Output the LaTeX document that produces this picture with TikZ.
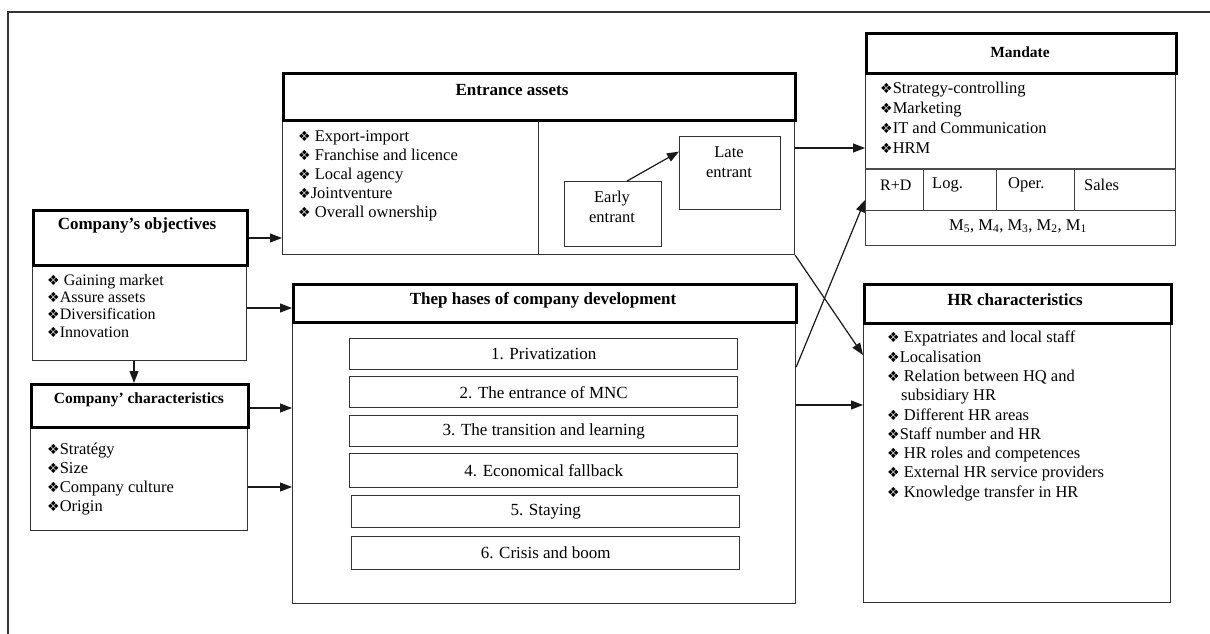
\documentclass[tikz,border=0pt]{standalone}
\usepackage{fontspec}
\setmainfont{Liberation Serif}
\newfontfamily\dvfont{DejaVu Sans}
\usetikzlibrary{arrows.meta}
\newcommand\bl{{\dvfont\fontsize{14}{14}\selectfont ❖}}
\begin{document}
\begin{tikzpicture}[x=1pt,y=-1pt,
  ttlbox/.style={draw=black,line width=2.6pt,inner sep=0,anchor=north west},
  bodybox/.style={draw=black!80,line width=1.2pt,inner sep=0,anchor=north west},
  cellbox/.style={draw=black!75,line width=1.1pt,inner sep=0,anchor=north west,minimum height=41pt},
  phbox/.style={draw=black!80,line width=1.4pt,inner sep=0,anchor=north west,minimum width=388pt,font=\fontsize{17}{19}\selectfont},
  ttl/.style={font=\bfseries\fontsize{17}{19}\selectfont,inner sep=0},
  lst/.style={anchor=north west,align=left,inner sep=0,font=\fontsize{16.5}{19.3}\selectfont},
  txt/.style={inner sep=0,font=\fontsize{16.5}{20}\selectfont},
  arr/.style={line width=1.2pt,draw=black!90,-{Triangle[length=12pt,width=9pt]}},
  frame/.style={line width=1.2pt,draw=black!80},
]
\useasboundingbox (0,0) rectangle (1210,634);
\fill[white] (0,0) rectangle (1210,634);
\coordinate (fbl) at (8,634);
\coordinate (ftl) at (8,12);
\coordinate (ftr) at (1210,12);
\draw[frame] (fbl) -- (ftl) -- (ftr);

% Entrance assets
\node[bodybox,minimum width=256pt,minimum height=135pt] (entl) at (282,119) {};
\node[bodybox,minimum width=256pt,minimum height=135pt] (entr) at (538,119) {};
\node[ttlbox,minimum width=512pt,minimum height=47pt] (entt) at (282,72) {};
\node[ttl] (enttx) at (512,90) {Entrance assets};
\node[lst,font=\fontsize{16.5}{19}\selectfont] (entlst) at (298,130) {\bl\ Export-import\\ \bl\ Franchise and licence\\ \bl\ Local agency\\ \bl Jointventure\\ \bl\ Overall ownership};
\node[bodybox,minimum width=97pt,minimum height=65pt] (early) at (564,181) {};
\node[txt,align=center] (earlytx) at (612,207) {Early\\entrant};
\node[bodybox,minimum width=101pt,minimum height=73pt] (late) at (679,136) {};
\node[txt,align=center] (latetx) at (729,162.5) {Late\\entrant};

% Mandate
\node[bodybox,minimum width=310pt,minimum height=173pt] (mbody) at (865,72) {};
\node[cellbox,minimum width=58pt] (rd) at (865,169) {};
\node[cellbox,minimum width=73pt] (log) at (923,169) {};
\node[cellbox,minimum width=78pt] (oper) at (996,169) {};
\node[cellbox,minimum width=101pt] (sales) at (1074,169) {};
\node[cellbox,minimum width=310pt,minimum height=35pt] (mrow) at (865,210) {};
\draw[line width=2.2pt,black!70] (mbody.west |- rd.north) -- (mbody.east |- rd.north);
\node[ttlbox,minimum width=310pt,minimum height=40pt] (mt) at (865,32) {};
\node[ttl,font=\bfseries\fontsize{15.5}{18}\selectfont] (mttx) at (1020,52) {Mandate};
\node[lst,font=\fontsize{16.5}{20}\selectfont] (mlst) at (880,82) {\bl Strategy-controlling\\ \bl Marketing\\ \bl IT and Communication\\ \bl HRM};
\node[txt,anchor=west,font=\fontsize{16}{19}\selectfont] (rdtx) at (880,185) {R+D};
\node[txt,anchor=west] (logtx) at (932,185) {Log.};
\node[txt,anchor=west] (opertx) at (1008,185) {Oper.};
\node[txt,anchor=west] (salestx) at (1084,185) {Sales};
\node[txt] (mrowtx) at (1018,226) {M\textsubscript{5}, M\textsubscript{4}, M\textsubscript{3}, M\textsubscript{2}, M\textsubscript{1}};

% Company's objectives
\node[bodybox,minimum width=214pt,minimum height=96pt] (objb) at (32,264) {};
\node[ttlbox,minimum width=214pt,minimum height=55pt] (objt) at (32,209) {};
\node[ttl] (objtx) at (137,225) {Company’s objectives};
\node[lst,font=\fontsize{16}{17.3}\selectfont] (objlst) at (47,274) {\bl\ Gaining market\\ \bl Assure assets\\ \bl Diversification\\ \bl Innovation};

% Company' characteristics
\node[bodybox,minimum width=217pt,minimum height=104pt] (charb) at (30,426) {};
\node[ttlbox,minimum width=217pt,minimum height=43pt] (chart) at (30,383) {};
\node[ttl,font=\bfseries\fontsize{15.5}{18}\selectfont] (chartx) at (139,400) {Company’ characteristics};
\node[lst,font=\fontsize{16.5}{19}\selectfont] (charlst) at (47,443) {\bl Stratégy\\ \bl Size\\ \bl Company culture\\ \bl Origin};

% Phases
\node[bodybox,minimum width=503pt,minimum height=282pt] (phb) at (292,321) {};
\node[ttlbox,minimum width=503pt,minimum height=38pt] (pht) at (292,283) {};
\node[ttl] (phtx) at (543,300) {Thep hases of company development};
\node[phbox,minimum height=31pt] (p1) at (349,338) {1. Privatization};
\node[phbox,minimum height=31pt] (p2) at (349,376) {2. The entrance of MNC};
\node[phbox,minimum height=31pt] (p3) at (349,415) {3. The transition and learning};
\node[phbox,minimum height=34pt] (p4) at (349,453) {4. Economical fallback};
\node[phbox,minimum height=32pt] (p5) at (351,495) {5. Staying};
\node[phbox,minimum height=33pt] (p6) at (351,536) {6. Crisis and boom};

% HR characteristics
\node[bodybox,minimum width=307pt,minimum height=280pt] (hrb) at (863,322) {};
\node[ttlbox,minimum width=307pt,minimum height=39pt] (hrt) at (863,283) {};
\node[ttl] (hrtx) at (1015,300) {HR characteristics};
\node[lst] (hrlst) at (887,331) {\bl\ Expatriates and local staff\\ \bl Localisation\\ \bl\ Relation between HQ and\\ \hspace*{14pt}subsidiary HR\\ \bl\ Different HR areas\\ \bl Staff number and HR\\ \bl\ HR roles and competences\\ \bl\ External HR service providers\\ \bl\ Knowledge transfer in HR};

% connectors
\draw[arr] (objt.east |- 0,238) -- (entl.west |- 0,238);
\draw[arr] (objb.east |- 0,308) -- (pht.west |- 0,308);
\draw[arr] (objb.south -| 134,0) -- (chart.north -| 134,0);
\draw[arr] (chart.east |- 0,408) -- (phb.west |- 0,408);
\draw[arr] (charb.east |- 0,487) -- (phb.west |- 0,487);
\draw[arr] (entr.east |- 0,148) -- (mbody.west |- 0,148);
\draw[arr] (entr.south east) -- (hrb.west |- 0,355);
\draw[arr] (phb.east |- 0,367) -- (rd.west |- 0,200);
\draw[arr] (phb.east |- 0,405) -- (hrb.west |- 0,405);
\draw[arr] ([xshift=14pt]early.north) -- ([yshift=21.5pt]late.west);
\end{tikzpicture}
\end{document}
